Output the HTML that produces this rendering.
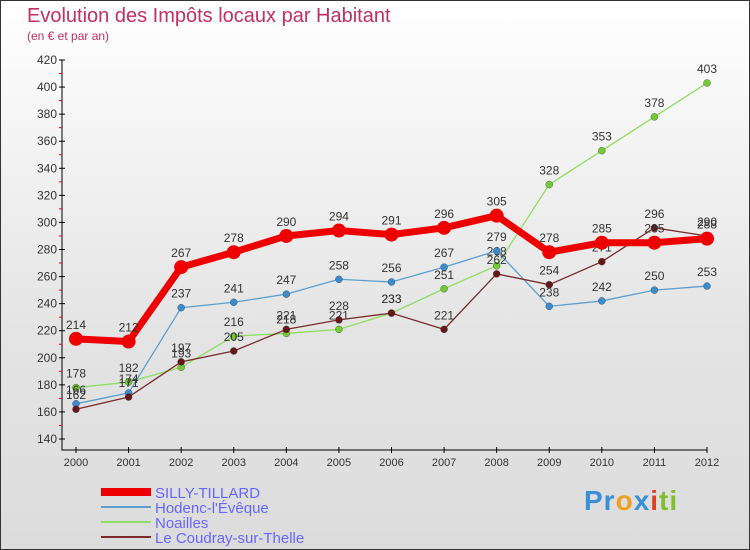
<!DOCTYPE html>
<html><head><meta charset="utf-8"><style>
body{margin:0}
#c{width:748px;height:548px;border:1px solid #333;background:linear-gradient(#fff,#e4e4e4 60%,#dcdcdc);position:relative;font-family:"Liberation Sans",sans-serif;overflow:hidden}
.t{position:absolute;color:#c03060}
</style></head><body>
<div id="c">
<div class="t" style="left:26px;top:4px;font-size:20px">Evolution des Impôts locaux par Habitant</div>
<div class="t" style="left:26px;top:28px;font-size:12px">(en € et par an)</div>
<svg id="s" width="750" height="550" style="position:absolute;left:-1px;top:-1px"></svg>
<div style="position:absolute;left:583px;top:484px;font-size:28px;font-weight:bold;letter-spacing:1px"><span style="color:#3a8fd8">Pr</span><span style="color:#f0a020">o</span><span style="color:#3a8fd8">x</span><span style="color:#e04020">i</span><span style="color:#80c030">ti</span></div>
</div>
<script>
const years=[2000,2001,2002,2003,2004,2005,2006,2007,2008,2009,2010,2011,2012];
const yTicks=[140,160,180,200,220,240,260,280,300,320,340,360,380,400,420];
const silly=[214,212,267,278,290,294,291,296,305,278,285,285,288];
const hodenc=[166,174,237,241,247,258,256,267,279,238,242,250,253];
const noailles=[178,182,193,216,218,221,233,251,268,328,353,378,403];
const coudray=[162,171,197,205,221,228,233,221,262,254,271,296,290];
const names=["SILLY-TILLARD","Hodenc-l'Évêque","Noailles","Le Coudray-sur-Thelle"];
const NS="http://www.w3.org/2000/svg",s=document.getElementById('s');
const X=i=>76+i*(707-76)/12, Y=v=>439-(v-140)*(439-60)/280;
function el(t,a,p){const e=document.createElementNS(NS,t);for(const k in a)e.setAttribute(k,a[k]);(p||s).appendChild(e);return e;}
let ax=el('path',{d:`M62 ${Y(420)}V450H707`,stroke:'#000',fill:'none'});


yTicks.forEach(v=>{
 el('line',{x1:59,x2:65,y1:Y(v),y2:Y(v),stroke:'#000'});
 if(v<420)el('line',{x1:59,x2:62,y1:Y(v+10),y2:Y(v+10),stroke:'#e00'});
 const t=el('text',{x:57,y:Y(v)+4,'text-anchor':'end','font-size':12,fill:'#333'});t.textContent=v;
 
 
});
years.forEach((y,i)=>{
 el('line',{x1:X(i),x2:X(i),y1:447,y2:453,stroke:'#000'});
 const t=el('text',{x:X(i),y:466,'text-anchor':'middle','font-size':11,fill:'#333'});t.textContent=y;
 
 
});
const series=[[noailles,'#90dd60','#70cc30',1.3,3.5],[hodenc,'#5a9fd0','#3a8cd0',1.3,3.5],[coudray,'#7a2a2a','#661818',1.3,3.5],[silly,'#ee0000','#ee0000',7,7]];
series.forEach(([d,lc,pc,w,r],k)=>{
 const g=el('g',{});
 
 
 el('polyline',{points:d.map((v,i)=>X(i)+','+Y(v)).join(' '),fill:'none',stroke:lc,'stroke-width':w},g);
 d.forEach((v,i)=>{
  const c=el('circle',{cx:X(i),cy:Y(v),r:r,fill:pc,stroke:k==3?'none':'#444','stroke-width':0.4},g);
  
  
  const t=el('text',{x:X(i),y:Y(v)-10,'text-anchor':'middle','font-size':12,fill:'#333'},g);t.textContent=v;
 });
});
const lc=['#ee0000','#5a9fd0','#90dd60','#7a2a2a'],lw=[8,2,2,2];
names.forEach((n,i)=>{
 const y=492+i*15;
 el('line',{x1:101,x2:151,y1:y,y2:y,stroke:lc[i],'stroke-width':lw[i]});
 const t=el('text',{x:155,y:y+6,'font-size':15,fill:'#6666ff'});t.textContent=n;
 
 
});
</script>
</body></html>
